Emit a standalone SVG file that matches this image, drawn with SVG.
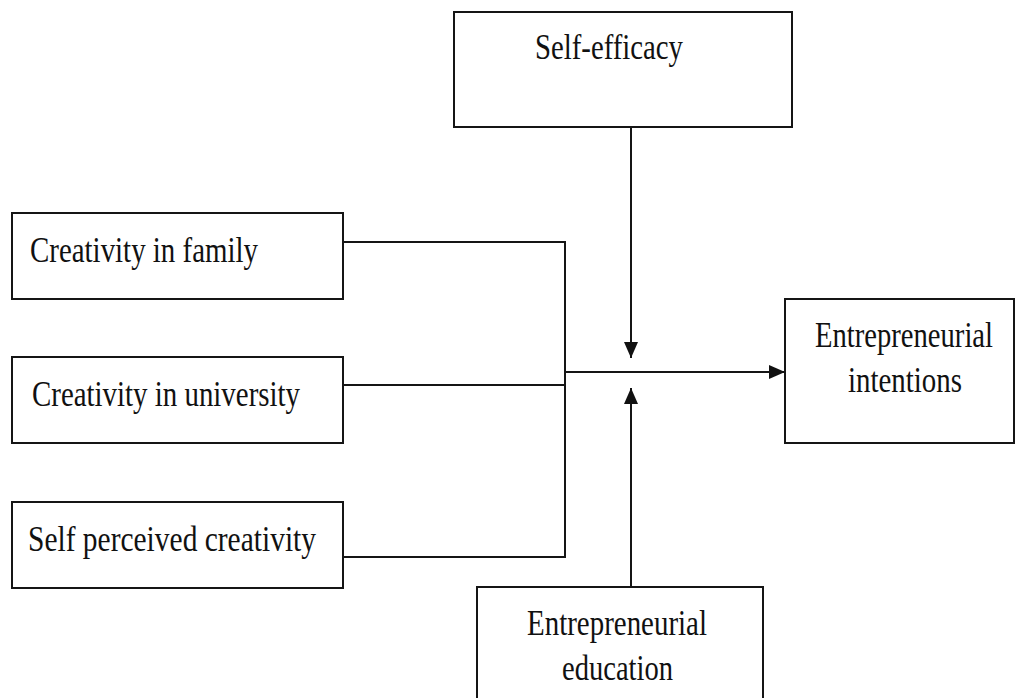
<svg xmlns="http://www.w3.org/2000/svg" width="1016" height="698" viewBox="0 0 1016 698">
  <style>
    .box { fill: #ffffff; stroke: #151515; stroke-width: 2; }
    .lbl { font-family: "Liberation Serif", "Times New Roman", serif; font-size: 36px; fill: #111111; }
    .wire { fill: none; stroke: #151515; stroke-width: 2; }
  </style>
  <defs>
    <marker id="head" viewBox="0 0 16 14" refX="16" refY="7" markerWidth="16" markerHeight="14" markerUnits="userSpaceOnUse" orient="auto">
      <path d="M0,0 L16,7 L0,14 Z" fill="#111111"/>
    </marker>
  </defs>
  <rect width="1016" height="698" fill="#ffffff"/>

  <g id="self-efficacy">
    <rect class="box" x="454" y="12" width="338" height="115"/>
    <text class="lbl" x="535" y="59" textLength="148" lengthAdjust="spacingAndGlyphs">Self-efficacy</text>
  </g>

  <g id="creativity-family">
    <rect class="box" x="12" y="213" width="331" height="86"/>
    <text class="lbl" x="30" y="262" textLength="228" lengthAdjust="spacingAndGlyphs">Creativity in family</text>
  </g>

  <g id="creativity-university">
    <rect class="box" x="12" y="357" width="331" height="86"/>
    <text class="lbl" x="32" y="406" textLength="268" lengthAdjust="spacingAndGlyphs">Creativity in university</text>
  </g>

  <g id="self-perceived-creativity">
    <rect class="box" x="12" y="502" width="331" height="86"/>
    <text class="lbl" x="28" y="551" textLength="288" lengthAdjust="spacingAndGlyphs">Self perceived creativity</text>
  </g>

  <g id="entrepreneurial-intentions">
    <rect class="box" x="785" y="299" width="229" height="144"/>
    <text class="lbl" x="815" y="347" textLength="178" lengthAdjust="spacingAndGlyphs">Entrepreneurial</text>
    <text class="lbl" x="848" y="392" textLength="114" lengthAdjust="spacingAndGlyphs">intentions</text>
  </g>

  <g id="entrepreneurial-education">
    <rect class="box" x="477" y="587" width="286" height="120"/>
    <text class="lbl" x="527" y="635" textLength="180" lengthAdjust="spacingAndGlyphs">Entrepreneurial</text>
    <text class="lbl" x="562" y="680" textLength="111" lengthAdjust="spacingAndGlyphs">education</text>
  </g>

  <g id="connectors">
    <!-- three predictors gathered on one vertical bus -->
    <polyline class="wire" points="343,242 565,242 565,557 343,557"/>
    <line class="wire" x1="343" y1="385" x2="565" y2="385"/>
    <!-- bus to outcome -->
    <line class="wire" x1="565" y1="372" x2="785" y2="372" marker-end="url(#head)"/>
    <!-- moderators pointing at the main path -->
    <line class="wire" x1="631" y1="127" x2="631" y2="358" marker-end="url(#head)"/>
    <line class="wire" x1="631" y1="587" x2="631" y2="388" marker-end="url(#head)"/>
  </g>
</svg>
